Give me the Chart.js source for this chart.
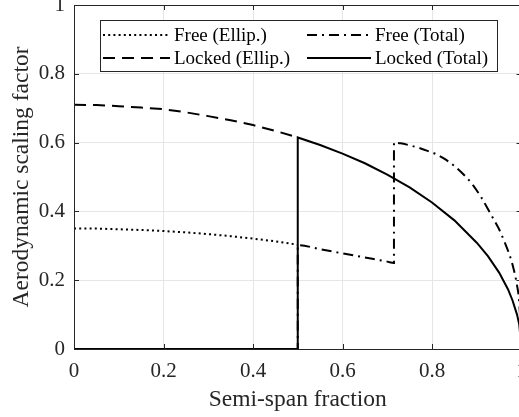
<!DOCTYPE html>
<html>
<head>
<meta charset="utf-8">
<script src="https://cdn.jsdelivr.net/npm/chart.js@4"></script>
<style>
  html, body { margin: 0; padding: 0; background: #fff; overflow: hidden; }
  #grafico { display: block; }
</style>
</head>
<body>
<canvas id="grafico" width="530" height="417"></canvas>
<script>
// estações da semi-envergadura (parte elíptica, até a junta)
const xEllip = [0, 0.05, 0.1, 0.15, 0.2, 0.25, 0.3, 0.35, 0.4, 0.45, 0.5];
const freeEllip = [0.350, 0.350, 0.348, 0.346, 0.343, 0.339, 0.334, 0.328, 0.321, 0.313, 0.303];
const lockedEllip = [0.710, 0.709, 0.706, 0.702, 0.697, 0.688, 0.677, 0.665, 0.651, 0.634, 0.615];

// distribuição total com a ponta travada
const xLockedTotal = [0, 0.5, 0.5, 0.55, 0.6, 0.65, 0.7, 0.75, 0.8, 0.85, 0.9, 0.925, 0.95, 0.97, 0.98, 0.99, 0.995, 1.0];
const lockedTotal = [0, 0, 0.615, 0.593, 0.568, 0.540, 0.507, 0.470, 0.426, 0.374, 0.309, 0.270, 0.222, 0.173, 0.141, 0.100, 0.071, 0];

// distribuição total com a ponta livre
const xFreeTotal = [0, 0.5, 0.5, 0.55, 0.6, 0.65, 0.7, 0.715, 0.715, 0.73, 0.75, 0.77, 0.79, 0.81, 0.83, 0.85, 0.87, 0.89, 0.91, 0.93, 0.95, 0.96, 0.97, 0.98, 0.99, 0.995, 1.0];
const freeTotal = [0, 0, 0.302, 0.290, 0.278, 0.266, 0.254, 0.250, 0.600, 0.598, 0.592, 0.585, 0.576, 0.566, 0.551, 0.532, 0.508, 0.479, 0.441, 0.395, 0.348, 0.318, 0.285, 0.245, 0.185, 0.135, 0];

const xTicks = [0, 0.2, 0.4, 0.6, 0.8, 1];
const xTickLabels = ['0', '0.2', '0.4', '0.6', '0.8', '1'];
const yTicks = [0, 0.2, 0.4, 0.6, 0.8, 1];
const yTickLabels = ['0', '0.2', '0.4', '0.6', '0.8', '1'];

const fonte = 'Liberation Serif, Times New Roman, serif';
const corEixo = '#262626';

function pontos(xs, ys) {
  return xs.map((v, i) => ({ x: v, y: ys[i] }));
}

// caixa dos eixos, marcas internas e legenda em duas colunas
const moldura = {
  id: 'moldura',
  afterDraw(chart) {
    const { ctx, chartArea: a, scales: { x, y } } = chart;
    ctx.save();
    ctx.strokeStyle = corEixo;
    ctx.lineWidth = 1;
    ctx.setLineDash([]);
    ctx.strokeRect(a.left + 0.5, a.top + 0.5, a.right - a.left, a.bottom - a.top);
    const t = 5;
    ctx.beginPath();
    xTicks.forEach(v => {
      const px = Math.round(x.getPixelForValue(v)) + 0.5;
      ctx.moveTo(px, a.bottom); ctx.lineTo(px, a.bottom - t);
      ctx.moveTo(px, a.top); ctx.lineTo(px, a.top + t);
    });
    yTicks.forEach(v => {
      const py = Math.round(y.getPixelForValue(v)) + 0.5;
      ctx.moveTo(a.left, py); ctx.lineTo(a.left + t, py);
      ctx.moveTo(a.right, py); ctx.lineTo(a.right - t, py);
    });
    ctx.stroke();

    // legenda
    const lx = a.left + 26, ly = a.top + 15, lw = 397, lh = 51;
    ctx.fillStyle = '#fff';
    ctx.fillRect(lx, ly, lw, lh);
    ctx.strokeStyle = corEixo;
    ctx.strokeRect(lx + 0.5, ly + 0.5, lw, lh);
    const colunas = [{ l0: lx + 3, l1: lx + 70, tx: lx + 74 }, { l0: lx + 207, l1: lx + 271, tx: lx + 275 }];
    const linhas = [ly + 15, ly + 38];
    ctx.font = '19px ' + fonte;
    ctx.textBaseline = 'middle';
    ctx.textAlign = 'left';
    chart.data.datasets.forEach((ds, i) => {
      const c = colunas[Math.floor(i / 2)];
      const r = linhas[i % 2];
      ctx.beginPath();
      ctx.strokeStyle = ds.borderColor;
      ctx.lineWidth = ds.borderWidth;
      ctx.setLineDash(ds.borderDash || []);
      ctx.moveTo(c.l0, r);
      ctx.lineTo(c.l1, r);
      ctx.stroke();
      ctx.fillStyle = '#000';
      ctx.fillText(ds.label, c.tx, r + 1);
    });
    ctx.restore();
  }
};

new Chart(document.getElementById('grafico'), {
  type: 'line',
  data: {
    datasets: [
      { label: 'Free (Ellip.)', data: pontos(xEllip, freeEllip), borderDash: [2, 3.2] },
      { label: 'Locked (Ellip.)', data: pontos(xEllip, lockedEllip), borderDash: [12, 7] },
      { label: 'Free (Total)', data: pontos(xFreeTotal, freeTotal), borderDash: [10, 5, 2, 5], cubicInterpolationMode: 'monotone' },
      { label: 'Locked (Total)', data: pontos(xLockedTotal, lockedTotal), borderDash: [] }
    ].map(ds => Object.assign({
      borderColor: '#000',
      borderWidth: 2,
      pointRadius: 0,
      tension: 0,
      fill: false
    }, ds))
  },
  options: {
    responsive: false,
    maintainAspectRatio: false,
    devicePixelRatio: 1,
    animation: false,
    layout: { padding: { left: 0, top: 5, right: 8.5, bottom: 0 } },
    plugins: { legend: { display: false }, tooltip: { enabled: false } },
    scales: {
      x: {
        type: 'linear',
        min: 0,
        max: 1,
        afterBuildTicks: s => { s.ticks = xTicks.map(v => ({ value: v })); },
        afterFit: s => { s.height = 68; s.paddingLeft = 0; s.paddingRight = 0; },
        ticks: {
          autoSkip: false,
          maxRotation: 0,
          padding: 10,
          color: corEixo,
          font: { family: fonte, size: 21 },
          callback: (v, i) => xTickLabels[i]
        },
        grid: { color: '#e6e6e6', drawTicks: false },
        border: { display: false },
        title: {
          display: true,
          text: 'Semi-span fraction',
          color: corEixo,
          font: { family: fonte, size: 23.5 },
          padding: { top: 0, bottom: 3 }
        }
      },
      y: {
        min: 0,
        max: 1,
        afterBuildTicks: s => { s.ticks = yTicks.map(v => ({ value: v })); },
        afterFit: s => { s.width = 74; s.paddingTop = 0; s.paddingBottom = 0; },
        ticks: {
          autoSkip: false,
          padding: 9,
          color: corEixo,
          font: { family: fonte, size: 21 },
          callback: (v, i) => yTickLabels[i]
        },
        grid: { color: '#e6e6e6', drawTicks: false },
        border: { display: false },
        title: {
          display: true,
          text: 'Aerodynamic scaling factor',
          color: corEixo,
          font: { family: fonte, size: 23.5 },
          padding: { top: 8, bottom: 0 }
        }
      }
    }
  },
  plugins: [moldura]
});
</script>
</body>
</html>
